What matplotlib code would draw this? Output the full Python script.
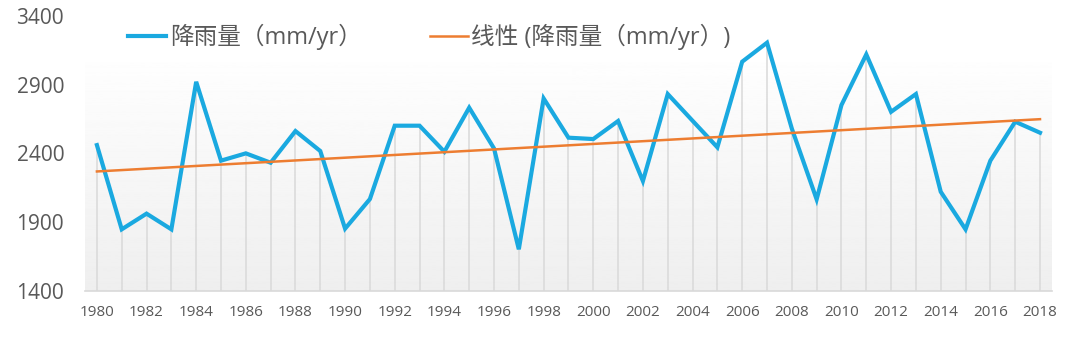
import numpy as np
import matplotlib.pyplot as plt

plt.rcParams['font.family'] = ['Open Sans', 'Noto Sans CJK SC', 'DejaVu Sans']

years = list(range(1980, 2019))
rain = [2460, 1848, 1962, 1848, 2920, 2347, 2400, 2332, 2562, 2417,
        1853, 2068, 2601, 2601, 2412, 2732, 2436, 1703, 2799, 2514,
        2504, 2635, 2199, 2831, 2637, 2444, 3066, 3204, 2580, 2066,
        2751, 3119, 2702, 2831, 2121, 1848, 2347, 2630, 2550]
yticks = [1400, 1900, 2400, 2900, 3400]
xticks = list(range(1980, 2019, 2))

label_rain = '降雨量（mm/yr）'
label_trend = '线性 (降雨量（mm/yr）)'

blue = '#1aa9e0'
orange = '#ed7d31'
grey_txt = '#595959'
grid = '#d9d9d9'

fig = plt.figure(figsize=(10.8, 3.46), dpi=100)
ax = fig.add_axes([0.0787, 0.159, 0.8953, 0.7955])

x0, x1 = 1979.52, 2018.48
ax.set_xlim(x0, x1)
ax.set_ylim(1400, 3400)

# soft grey-to-white background under the plot
grad = np.linspace(0.935, 1.0, 256).reshape(-1, 1)
ax.imshow(grad, cmap='gray', vmin=0, vmax=1, aspect='auto', origin='lower',
          extent=[x0, x1, 1400, 3172], zorder=0)

# drop lines from each point to the baseline
ax.vlines(years, 1400, rain, color=grid, lw=1.1, zorder=1)

ax.plot(years, rain, color=blue, lw=3.0, solid_joinstyle='miter',
        label=label_rain, zorder=3)

coef = np.polyfit(years, rain, 1)
trend = np.polyval(coef, years)
ax.plot(years, trend, color=orange, lw=1.8, label=label_trend, zorder=4)

for s in ['top', 'right', 'left']:
    ax.spines[s].set_visible(False)
ax.spines['bottom'].set_color(grid)
ax.spines['bottom'].set_linewidth(1.2)

ax.set_yticks(yticks)
ax.set_xticks(xticks)
ax.tick_params(axis='y', length=0, pad=15, labelsize=15, labelcolor=grey_txt)
ax.tick_params(axis='x', length=0, pad=10, labelsize=11, labelcolor=grey_txt)

fig.legend(loc='center left', bbox_to_anchor=(0.108, 1 - 37 / 346), ncol=2,
           frameon=False, fontsize=17, handlelength=1.6, handletextpad=0.15,
           columnspacing=2.9, borderpad=0, labelcolor=grey_txt)

fig.savefig('out.png', dpi=100, facecolor='white')
